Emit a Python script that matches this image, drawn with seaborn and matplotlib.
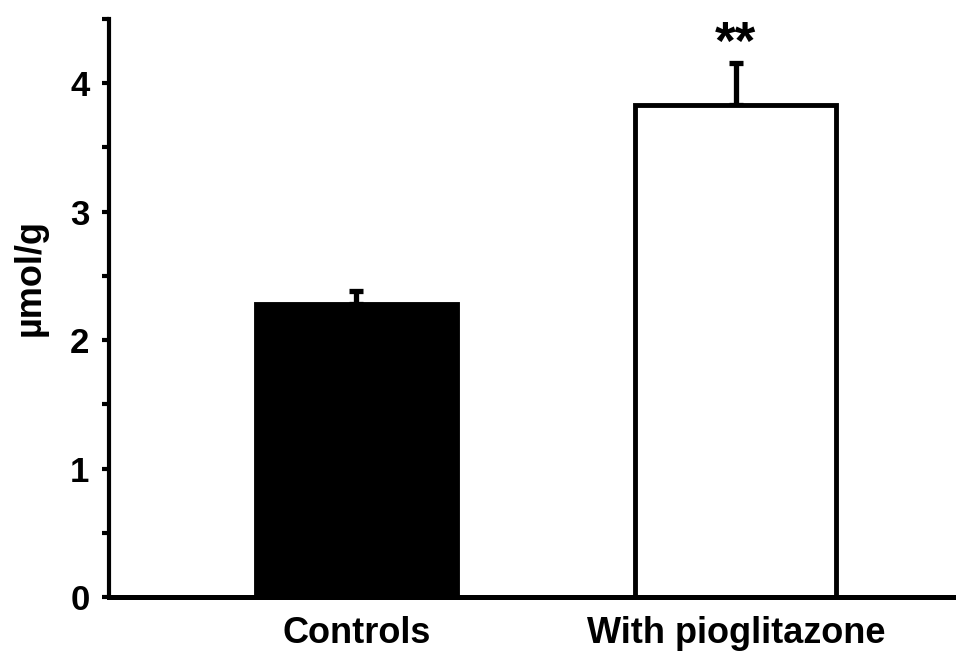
import matplotlib
matplotlib.use("Agg")
import matplotlib.pyplot as plt
import seaborn as sns
import pandas as pd
from matplotlib.ticker import MultipleLocator

# Data
categories = ["Controls", "With pioglitazone"]
values = [2.28, 3.83]
errors = [0.10, 0.33]
bar_colors = ["black", "white"]
significance = ["", "**"]
y_label = "\u00b5mol/g"

sns.set_theme(style="white")
plt.rcParams["font.family"] = ["Liberation Sans", "DejaVu Sans"]
plt.rcParams["text.color"] = "black"
plt.rcParams["axes.labelcolor"] = "black"
plt.rcParams["xtick.color"] = "black"
plt.rcParams["ytick.color"] = "black"

df = pd.DataFrame({"group": categories, "value": values})

fig = plt.figure(figsize=(9.56, 6.53), dpi=100)
ax = fig.add_axes([0.114, 0.0858, 0.886, 0.885])

sns.barplot(data=df, x="group", y="value", hue="group", palette=bar_colors,
            edgecolor="black", linewidth=3.5, width=0.53, legend=False,
            errorbar=None, ax=ax, zorder=2)

xpos = list(range(len(categories)))
ax.errorbar(xpos, values, yerr=[[0] * len(errors), errors], fmt="none",
            ecolor="black", elinewidth=3.8, capsize=5, capthick=3.8, zorder=1)

for x, v, e, s in zip(xpos, values, errors, significance):
    if s:
        ax.text(x, v + e + 0.33, s, ha="center", va="top", fontsize=38,
                fontweight="bold", color="black", clip_on=False)

ax.set_ylim(0, 4.5)
ax.set_xlim(-0.652, 1.58)
ax.yaxis.set_major_locator(MultipleLocator(1))
ax.yaxis.set_minor_locator(MultipleLocator(0.5))

for side in ["top", "right"]:
    ax.spines[side].set_visible(False)
ax.spines["left"].set_linewidth(3.0)
ax.spines["bottom"].set_linewidth(3.6)
ax.spines["left"].set_color("black")
ax.spines["bottom"].set_color("black")

ax.tick_params(axis="y", which="both", direction="out", length=5, width=3,
               color="black", left=True)
ax.tick_params(axis="y", which="major", labelsize=25, pad=9, labelcolor="black")
ax.tick_params(axis="x", length=0, labelsize=26, pad=14, labelcolor="black")
for lab in ax.get_yticklabels() + ax.get_xticklabels():
    lab.set_fontweight("bold")

ax.set_xlabel("")
ax.set_ylabel(y_label, fontsize=26, fontweight="bold", color="black")
ax.yaxis.set_label_coords(-0.072, 0.552)

ax.set_facecolor("white")
fig.patch.set_facecolor("white")
fig.savefig("out.png", dpi=100)
